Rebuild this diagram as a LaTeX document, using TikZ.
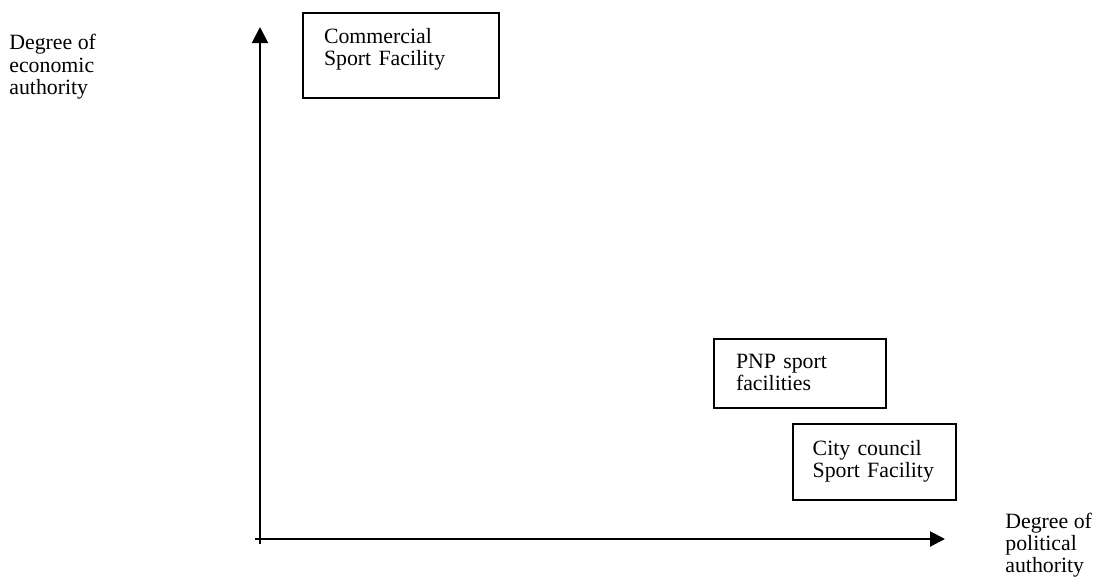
\documentclass[tikz,border=0pt]{standalone}
\usepackage{fontspec}
\setmainfont{Liberation Serif}
\usetikzlibrary{arrows.meta}
\newdimen\unitpx
\unitpx=0.55pt

\begin{document}
\begin{tikzpicture}[x=\unitpx,y=-\unitpx,
  every node/.style={font=\fontsize{12}{12.25}\selectfont, align=left},
  facility/.style={draw, line width=1.1pt, anchor=north west, inner ysep=0pt},
  axislabel/.style={anchor=base west, inner sep=0pt},
  axis/.style={line width=1.1pt}]

\useasboundingbox (0,0) rectangle (1094,582);

\coordinate (ybottom) at (260,543.5);
\coordinate (ytop) at (260,27);
\coordinate (xleft) at (255,539);
\coordinate (xright) at (945,539);

\draw [axis, -{Triangle[length=8.8pt, width=8.8pt]}] (ybottom) -- (ytop);
\draw [axis, -{Triangle[length=8.25pt, width=8.25pt]}] (xleft) -- (xright);

% base = baseline of the last line
\node [axislabel] (econ) at (9,94.3) {Degree of\\economic\\authority};
\node [axislabel] (polit) at (1005,572.7) {Degree of\\political\\authority};

\node [facility, inner xsep=21\unitpx, text width=154\unitpx, text height=31\unitpx, text depth=54\unitpx]
  (commercial) at (302,11.7) {Commercial\\Sport Facility};
\node [facility, inner xsep=21.7\unitpx, text width=128.3\unitpx, text height=29\unitpx, text depth=40\unitpx]
  (pnp) at (713.3,338.3) {PNP sport\\facilities};
\node [facility, inner xsep=20\unitpx, text width=123.3\unitpx, text height=31.3\unitpx, text depth=45.3\unitpx]
  (council) at (791.7,422.7) {City council\\Sport Facility};

\end{tikzpicture}
\end{document}
